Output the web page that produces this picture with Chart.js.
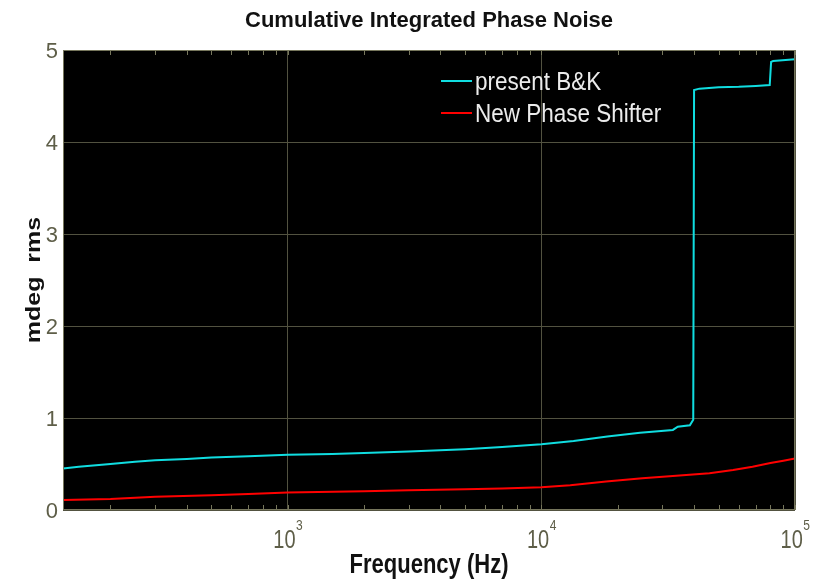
<!DOCTYPE html>
<html>
<head>
<meta charset="utf-8">
<script src="https://cdn.jsdelivr.net/npm/chart.js@4.4.1/dist/chart.umd.min.js"></script>
<style>
  html, body { margin: 0; padding: 0; background: #ffffff; }
  #wrap { width: 817px; height: 581px; }
</style>
</head>
<body>
<div id="wrap"><canvas id="c" width="817" height="581"></canvas></div>
<script>
// Cumulative integrated phase noise (mdeg rms) versus frequency (Hz)
const seriesLabels = ['present B&K', 'New Phase Shifter'];

// present B&K
const freqBK = [130, 150, 200, 250, 300, 400, 500, 700, 1000, 1500, 2000, 3000, 5000, 7000,
  10000, 13400, 18200, 24500, 33000, 34500, 38500, 39700, 40000, 42000, 50000, 60000, 70000,
  79500, 80500, 82000, 100000];
const valBK = [0.45, 0.47, 0.50, 0.525, 0.54, 0.555, 0.57, 0.585, 0.60, 0.61, 0.62, 0.635, 0.66, 0.685,
  0.714, 0.75, 0.80, 0.84, 0.87, 0.905, 0.92, 0.98, 4.565, 4.58, 4.595, 4.60, 4.61,
  4.62, 4.87, 4.88, 4.90];

// New Phase Shifter
const freqNPS = [130, 200, 300, 500, 700, 1000, 2000, 3000, 5000, 7000, 10000, 13000, 18000,
  25000, 33000, 46000, 57000, 68000, 80000, 90000, 100000];
const valNPS = [0.11, 0.12, 0.145, 0.16, 0.175, 0.19, 0.205, 0.215, 0.225, 0.235, 0.247, 0.27, 0.31,
  0.345, 0.37, 0.40, 0.435, 0.47, 0.51, 0.535, 0.56];

// axis ranges and labelled ticks
const xRange = [130, 100000];
const decadeTicks = [1000, 10000, 100000];
const decadeExponents = ['3', '4', '5'];
const yTicks = [0, 1, 2, 3, 4, 5];
const xTitle = 'Frequency (Hz)';
const yTitle = 'mdeg  rms';

const colors = ['#10dde0', '#ff0000'];
const gridColor = '#525240';
const frameColor = '#76765c';
const tickTextColor = '#5e5e48';
const fontFamily = '"Liberation Sans", Arial, sans-serif';
const textStretch = 1.25;   // axis text is drawn slightly tall

function toPoints(xs, ys) { return xs.map((x, i) => ({ x: x, y: ys[i] })); }

// all log-scale tick positions (1..9 x 10^n) inside the x range
function logTickValues(lo, hi) {
  const out = [];
  for (let d = 100; d <= hi; d *= 10) {
    for (let m = 1; m <= 9; m++) {
      const v = m * d;
      if (v > lo && v <= hi) out.push(v);
    }
  }
  return out;
}

// text drawn with a vertical stretch along its height (or along its length when rotated)
function tallText(ctx, text, x, y, opts) {
  ctx.save();
  ctx.translate(x, y);
  if (opts.rotate) { ctx.rotate(-Math.PI / 2); ctx.scale(opts.along || 1, 1); }
  else ctx.scale(1, opts.stretch || 1);
  ctx.font = opts.font;
  ctx.fillStyle = opts.color;
  ctx.textAlign = opts.align || 'left';
  ctx.textBaseline = opts.baseline || 'alphabetic';
  ctx.fillText(text, 0, 0);
  ctx.restore();
}

const plotFrame = {
  id: 'plotFrame',
  beforeDraw(chart) {
    const { ctx, chartArea: a } = chart;
    ctx.save();
    ctx.fillStyle = '#000000';
    ctx.fillRect(a.left, a.top, a.right - a.left, a.bottom - a.top);
    ctx.restore();
  },
  afterDatasetsDraw(chart) {
    const { ctx, chartArea: a, scales } = chart;
    const x = scales.x;
    ctx.save();
    ctx.strokeStyle = frameColor;
    ctx.lineWidth = 1;
    ctx.beginPath();
    for (const t of x.ticks) {
      const px = Math.round(x.getPixelForValue(t.value)) + 0.5;
      ctx.moveTo(px, a.bottom); ctx.lineTo(px, a.bottom - 5);
      ctx.moveTo(px, a.top); ctx.lineTo(px, a.top + 5);
    }
    ctx.stroke();
    ctx.strokeRect(Math.round(a.left) + 0.5, Math.round(a.top) + 0.5,
      Math.round(a.right - a.left) - 1, Math.round(a.bottom - a.top) - 1);
    ctx.restore();
  },
  afterDraw(chart) {
    const { ctx, chartArea: a, scales } = chart;
    const xs = scales.x, ys = scales.y;

    // y tick labels
    yTicks.forEach(v => {
      tallText(ctx, String(v), a.left - 5, ys.getPixelForValue(v) + 8, {
        font: '22px ' + fontFamily, color: tickTextColor, align: 'right', stretch: 1.0
      });
    });

    // x tick labels: 10 with a raised exponent
    decadeTicks.forEach((v, i) => {
      const px = xs.getPixelForValue(v);
      ctx.save();
      ctx.font = '20px ' + fontFamily;
      const wBase = ctx.measureText('10').width;
      ctx.font = '12px ' + fontFamily;
      const wExp = ctx.measureText(decadeExponents[i]).width;
      ctx.restore();
      const left = px - (wBase + wExp) / 2;
      tallText(ctx, '10', left, a.bottom + 38, {
        font: '20px ' + fontFamily, color: tickTextColor, stretch: textStretch
      });
      tallText(ctx, decadeExponents[i], left + wBase + 0.5, a.bottom + 20, {
        font: '12px ' + fontFamily, color: tickTextColor, stretch: textStretch
      });
    });

    // axis titles
    tallText(ctx, xTitle, (a.left + a.right) / 2, a.bottom + 63, {
      font: 'bold 22px ' + fontFamily, color: '#111111', align: 'center', stretch: textStretch
    });
    tallText(ctx, yTitle, 40, (a.top + a.bottom) / 2, {
      font: 'bold 20px ' + fontFamily, color: '#111111', align: 'center', rotate: true, along: textStretch
    });

    // legend inside the plot, upper right
    const lx = a.left + 378;
    const rows = [a.top + 31, a.top + 63];
    chart.data.datasets.forEach((ds, i) => {
      const y = rows[i];
      ctx.save();
      ctx.strokeStyle = ds.borderColor;
      ctx.lineWidth = 2;
      ctx.beginPath();
      ctx.moveTo(lx, y); ctx.lineTo(lx + 31, y);
      ctx.stroke();
      ctx.restore();
      tallText(ctx, ds.label, lx + 34, y + 9, {
        font: '22.5px ' + fontFamily, color: '#ececec', stretch: 1.12
      });
    });
  }
};

new Chart(document.getElementById('c'), {
  type: 'line',
  data: {
    datasets: [
      { label: seriesLabels[0], data: toPoints(freqBK, valBK), borderColor: colors[0],
        backgroundColor: colors[0], borderWidth: 2, pointRadius: 0, tension: 0, fill: false },
      { label: seriesLabels[1], data: toPoints(freqNPS, valNPS), borderColor: colors[1],
        backgroundColor: colors[1], borderWidth: 2, pointRadius: 0, tension: 0, fill: false }
    ]
  },
  options: {
    responsive: false,
    animation: false,
    events: [],
    layout: { padding: { left: 0, right: 22, top: 0, bottom: 0 } },
    plugins: {
      legend: { display: false },
      tooltip: { enabled: false },
      title: {
        display: true,
        fullSize: false,
        text: 'Cumulative Integrated Phase Noise',
        color: '#111111',
        font: { family: fontFamily, size: 22, weight: 'bold', lineHeight: 1.2 },
        padding: { top: 8, bottom: 15.6 }
      }
    },
    scales: {
      x: {
        type: 'logarithmic',
        position: 'bottom',
        min: xRange[0],
        max: xRange[1],
        afterBuildTicks(scale) {
          scale.ticks = logTickValues(xRange[0], xRange[1]).map(v => ({ value: v }));
        },
        afterFit(scale) {
          scale.height = 71;
          scale.paddingLeft = 0;
          scale.paddingRight = 0;
        },
        border: { display: false },
        grid: {
          drawTicks: false,
          color: ctx => (ctx.tick && decadeTicks.includes(ctx.tick.value)) ? gridColor : 'rgba(0,0,0,0)',
          lineWidth: 1
        },
        ticks: { display: false, autoSkip: false, maxRotation: 0 }
      },
      y: {
        min: yTicks[0],
        max: yTicks[yTicks.length - 1],
        afterBuildTicks(scale) {
          scale.ticks = yTicks.map(v => ({ value: v }));
        },
        afterFit(scale) { scale.width = 63; },
        border: { display: false },
        grid: { drawTicks: false, color: gridColor, lineWidth: 1 },
        ticks: { display: false }
      }
    }
  },
  plugins: [plotFrame]
});
</script>
</body>
</html>
